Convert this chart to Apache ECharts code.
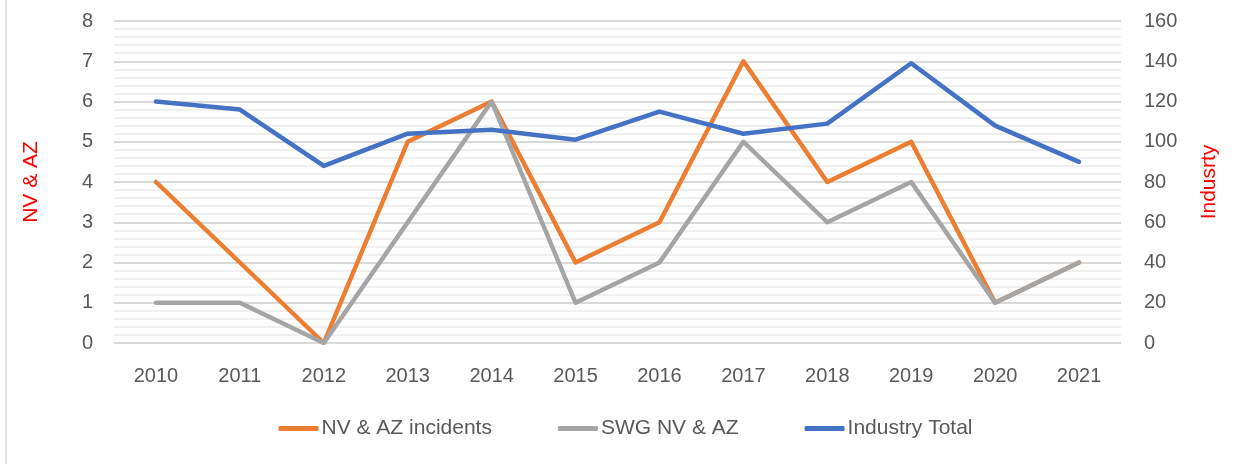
<!DOCTYPE html>
<html>
<head>
<meta charset="utf-8">
<script src="https://cdn.jsdelivr.net/npm/echarts@6/dist/echarts.min.js"></script>
<style>
  html, body { margin: 0; padding: 0; background: #fff; }
  #chart { width: 1251px; height: 464px; }
</style>
</head>
<body>
<div id="chart"></div>
<script>
// data
var years = ["2010", "2011", "2012", "2013", "2014", "2015", "2016", "2017", "2018", "2019", "2020", "2021"];
var nvAzIncidents = [4, 2, 0, 5, 6, 2, 3, 7, 4, 5, 1, 2];
var swgNvAz = [1, 1, 0, 3, 6, 1, 2, 5, 3, 4, 1, 2];
var industryTotal = [120, 116, 88, 104, 106, 101, 115, 104, 109, 139, 108, 90];

var font = "Liberation Sans";
var labelColor = "#595959";

var chart = echarts.init(document.getElementById("chart"));
chart.setOption({
  animation: false,
  textStyle: { fontFamily: font },
  grid: { left: 114, right: 130, top: 21, bottom: 121 },
  // thin frame line on the left edge
  graphic: [{
    type: "line",
    shape: { x1: 6, y1: 0, x2: 6, y2: 464 },
    style: { stroke: "#d9d9d9", lineWidth: 1.5 }
  }],
  legend: {
    bottom: 20,
    left: "center",
    icon: "roundRect",
    itemWidth: 40,
    itemHeight: 5,
    itemGap: 66,
    textStyle: { fontSize: 21, color: labelColor, fontFamily: font, padding: [0, 0, 0, -2] },
    data: ["NV & AZ incidents", "SWG NV & AZ", "Industry Total"]
  },
  xAxis: {
    type: "category",
    data: years,
    boundaryGap: true,
    axisLine: { show: false },
    axisTick: { show: false },
    axisLabel: { fontSize: 20, color: labelColor, margin: 23 }
  },
  yAxis: [
    {
      type: "value",
      min: 0, max: 8, interval: 1,
      name: "NV & AZ",
      nameLocation: "middle",
      nameGap: 72,
      nameRotate: 90,
      nameTextStyle: { color: "#ff0000", fontSize: 21 },
      axisLine: { show: false },
      axisTick: { show: false },
      axisLabel: { fontSize: 20, color: labelColor, margin: 21 },
      splitLine: { lineStyle: { color: "#d9d9d9", width: 2 } },
      minorTick: { show: false, splitNumber: 5 },
      minorSplitLine: { show: true, lineStyle: { color: "#f0f0f0", width: 2 } }
    },
    {
      type: "value",
      min: 0, max: 160, interval: 20,
      name: "Indusrty",
      nameLocation: "middle",
      nameGap: 78,
      nameRotate: 90,
      nameTextStyle: { color: "#ff0000", fontSize: 21 },
      axisLine: { show: false },
      axisTick: { show: false },
      axisLabel: { fontSize: 20, color: labelColor, margin: 23 },
      splitLine: { show: false }
    }
  ],
  series: [
    {
      name: "NV & AZ incidents",
      type: "line",
      data: nvAzIncidents,
      yAxisIndex: 0,
      symbol: "none",
      lineStyle: { color: "#ed7d31", width: 4.5, cap: "round", join: "round" },
      itemStyle: { color: "#ed7d31" }
    },
    {
      name: "SWG NV & AZ",
      type: "line",
      data: swgNvAz,
      yAxisIndex: 0,
      symbol: "none",
      lineStyle: { color: "#a5a5a5", width: 4.5, cap: "round", join: "round" },
      itemStyle: { color: "#a5a5a5" }
    },
    {
      name: "Industry Total",
      type: "line",
      data: industryTotal,
      yAxisIndex: 1,
      symbol: "none",
      lineStyle: { color: "#4472c4", width: 4.5, cap: "round", join: "round" },
      itemStyle: { color: "#4472c4" }
    }
  ]
});
</script>
</body>
</html>
